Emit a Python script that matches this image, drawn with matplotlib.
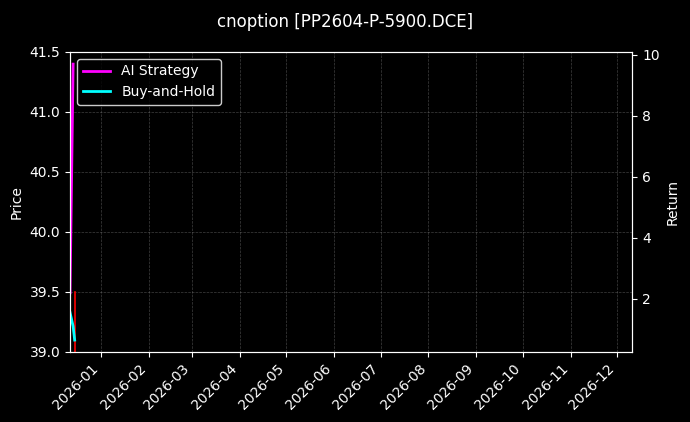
import matplotlib
matplotlib.use("Agg")
import matplotlib.pyplot as plt
import matplotlib.dates as mdates
import pandas as pd

dates = pd.to_datetime(["2025-12-12", "2025-12-14", "2025-15-12".replace("2025-15-12", "2025-12-15")])
ai_ret = [2.2, 9.7]
bh_ret = [1.55, 1.1, 0.65]
price_dates = pd.to_datetime(["2025-12-15", "2025-12-15"])
price = [38.8, 39.5]

plt.rcParams['font.family'] = ['DejaVu Sans']
fig = plt.figure(figsize=(6.9, 4.22), dpi=100, facecolor='black')
ax = fig.add_axes([0.1015, 0.166, 0.815, 0.711])
ax.set_facecolor('black')
ax2 = ax.twinx()
ax.plot(price_dates, price, color='red', lw=1.2)
ax.set_ylim(39.0, 41.5)
ax.set_ylabel('Price', color='white')
l1, = ax2.plot(dates[:2], ai_ret, color='magenta', lw=2, label='AI Strategy')
l2, = ax2.plot(dates, bh_ret, color='cyan', lw=2, label='Buy-and-Hold')
ax2.set_ylim(0.26, 10.1)
ax2.set_ylabel('Return', color='white')
ax.set_xlim(pd.Timestamp("2025-12-12"), pd.Timestamp("2026-12-11"))
ax.xaxis.set_major_locator(mdates.MonthLocator())
ax.xaxis.set_major_formatter(mdates.DateFormatter('%Y-%m'))
plt.setp(ax.get_xticklabels(), rotation=45, ha='right')
ax.grid(True, color='gray', ls='--', lw=0.5, alpha=0.5)
for a in (ax, ax2):
    a.tick_params(colors='white')
    for s in a.spines.values():
        s.set_color('white')
leg = ax2.legend(handles=[l1, l2], loc='upper left', facecolor='black', edgecolor='white', labelcolor='white')
fig.suptitle('cnoption [PP2604-P-5900.DCE]', color='white', y=0.97)
fig.savefig('out.png', facecolor='black')
